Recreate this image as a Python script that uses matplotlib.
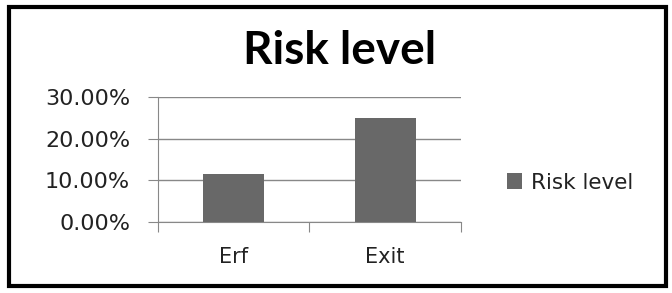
import numpy as np
from matplotlib import pyplot as plt
from matplotlib.patches import Rectangle
from matplotlib.ticker import FuncFormatter

plt.rcParams['font.family'] = ['DejaVu Sans']

categories = ['Erf', 'Exit']
risk = [11.5, 25.0]
yticks = [0, 10, 20, 30]

fig = plt.figure(figsize=(6.72, 2.93), dpi=100)
ax = fig.add_axes([0.235, 0.242, 0.451, 0.427])

x = np.arange(len(categories))
ax.bar(x, risk, width=0.4, color='#686868', label='Risk level', zorder=3)

ax.set_xlim(-0.5, 1.5)
ax.set_ylim(0, 30)
ax.set_yticks(yticks)
ax.yaxis.set_major_formatter(FuncFormatter(lambda v, p: f'{v:.2f}%'))
ax.tick_params(axis='y', labelsize=16, length=7, color='#888888', pad=13,
               labelcolor='#222222')
ax.grid(axis='y', color='#888888', linewidth=1, zorder=0)

# category labels between boundary ticks
ax.set_xticks([-0.5, 0.5, 1.5])
ax.set_xticklabels([])
ax.set_xticks(x, minor=True)
ax.set_xticklabels(categories, minor=True, fontsize=15, color='#222222')
ax.tick_params(axis='x', which='major', length=7, color='#888888')
ax.tick_params(axis='x', which='minor', length=0, pad=18)

for s in ['top', 'right']:
    ax.spines[s].set_visible(False)
for s in ['left', 'bottom']:
    ax.spines[s].set_color('#888888')

fig.text(0.506, 0.825, 'Risk level', ha='center', va='center',
         fontsize=33, fontweight='bold', family='Lato')

fig.legend(loc='center left', bbox_to_anchor=(0.726, 0.377), frameon=False,
           fontsize=15.5, handlelength=0.7, handleheight=0.7, handletextpad=0.4,
           labelcolor='#222222')

fig.patches.append(Rectangle((0.013, 0.025), 0.978, 0.95, transform=fig.transFigure,
                             fill=False, edgecolor='black', linewidth=3))

fig.savefig('out.png', dpi=100)
